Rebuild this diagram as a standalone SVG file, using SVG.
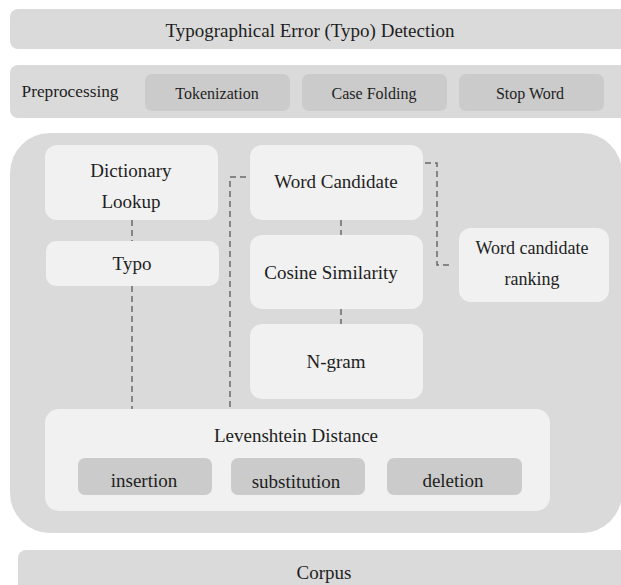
<svg xmlns="http://www.w3.org/2000/svg" width="621" height="585" viewBox="0 0 621 585">
  <style>
    .band { fill: #dadada; }
    .panel { fill: #f1f1f1; }
    .chip { fill: #cbcbcb; }
    .lbl { fill: #1e1e1e; text-anchor: middle; dominant-baseline: central; }
    .t19 { font-size: 19px; }
    .t18 { font-size: 18px; }
    .t16 { font-size: 16px; }
    .link { fill: none; stroke: #6a6a6a; stroke-width: 1.5; stroke-dasharray: 6 4; }
  </style>

  <rect x="0" y="0" width="621" height="585" fill="#ffffff"/>

  <g font-family="Liberation Serif, DejaVu Serif, serif">
  <!-- header band -->
  <g id="typo-detection">
    <rect class="band" x="10" y="9" width="624" height="40" rx="8"/>
    <text class="lbl t19" x="310" y="30">Typographical Error (Typo) Detection</text>
  </g>

  <!-- preprocessing band with its steps -->
  <g id="preprocessing">
    <rect class="band" x="10" y="65" width="624" height="53" rx="8"/>
    <text class="lbl" x="70" y="91" font-size="17.3">Preprocessing</text>
  </g>
  <g id="tokenization">
    <rect class="chip" x="145" y="74" width="145" height="37" rx="7"/>
    <text class="lbl t16" x="217" y="93">Tokenization</text>
  </g>
  <g id="case-folding">
    <rect class="chip" x="302" y="74" width="145" height="37" rx="7"/>
    <text class="lbl t16" x="374" y="93">Case Folding</text>
  </g>
  <g id="stop-word">
    <rect class="chip" x="459" y="74" width="145" height="37" rx="7"/>
    <text class="lbl t16" x="530" y="93">Stop Word</text>
  </g>

  <!-- main processing area -->
  <g id="process-area">
    <rect class="band" x="10" y="133" width="612" height="400" rx="40"/>
  </g>

  <!-- dashed connectors -->
  <g id="connectors">
    <path class="link" d="M132 220 V241"/>
    <path class="link" d="M132 286 V409"/>
    <path class="link" d="M246 177 H230 V409"/>
    <path class="link" d="M341 220 V235"/>
    <path class="link" d="M341 309 V324"/>
    <path class="link" d="M425 163 H437 V265 H452"/>
  </g>

  <g id="dictionary-lookup">
    <rect class="panel" x="45" y="145" width="173" height="75" rx="12"/>
    <text class="lbl t19" x="131" y="170">Dictionary</text>
    <text class="lbl t19" x="131" y="201">Lookup</text>
  </g>
  <g id="typo">
    <rect class="panel" x="46" y="241" width="173" height="45" rx="10"/>
    <text class="lbl t19" x="132" y="263">Typo</text>
  </g>
  <g id="word-candidate">
    <rect class="panel" x="250" y="145" width="173" height="75" rx="12"/>
    <text class="lbl t19" x="336" y="181">Word Candidate</text>
  </g>
  <g id="cosine-similarity">
    <rect class="panel" x="250" y="235" width="173" height="74" rx="12"/>
    <text class="lbl t19" x="331" y="272">Cosine Similarity</text>
  </g>
  <g id="n-gram">
    <rect class="panel" x="250" y="324" width="173" height="75" rx="12"/>
    <text class="lbl t19" x="336" y="361">N-gram</text>
  </g>
  <g id="word-candidate-ranking">
    <rect class="panel" x="459" y="228" width="150" height="74" rx="12"/>
    <text class="lbl t18" x="532" y="248">Word candidate</text>
    <text class="lbl t18" x="532" y="279">ranking</text>
  </g>

  <g id="levenshtein-distance">
    <rect class="panel" x="45" y="409" width="505" height="102" rx="14"/>
    <text class="lbl t19" x="296" y="435">Levenshtein Distance</text>
  </g>
  <g id="insertion">
    <rect class="chip" x="78" y="458" width="134" height="37" rx="7"/>
    <text class="lbl t19" x="144" y="480">insertion</text>
  </g>
  <g id="substitution">
    <rect class="chip" x="231" y="458" width="134" height="37" rx="7"/>
    <text class="lbl t19" x="296" y="481">substitution</text>
  </g>
  <g id="deletion">
    <rect class="chip" x="387" y="458" width="135" height="37" rx="7"/>
    <text class="lbl t19" x="453" y="480">deletion</text>
  </g>

  <!-- corpus band at the bottom -->
  <g id="corpus">
    <rect class="band" x="18" y="550" width="620" height="50" rx="8"/>
    <text class="lbl t19" x="324" y="572">Corpus</text>
  </g>
  </g>
</svg>
